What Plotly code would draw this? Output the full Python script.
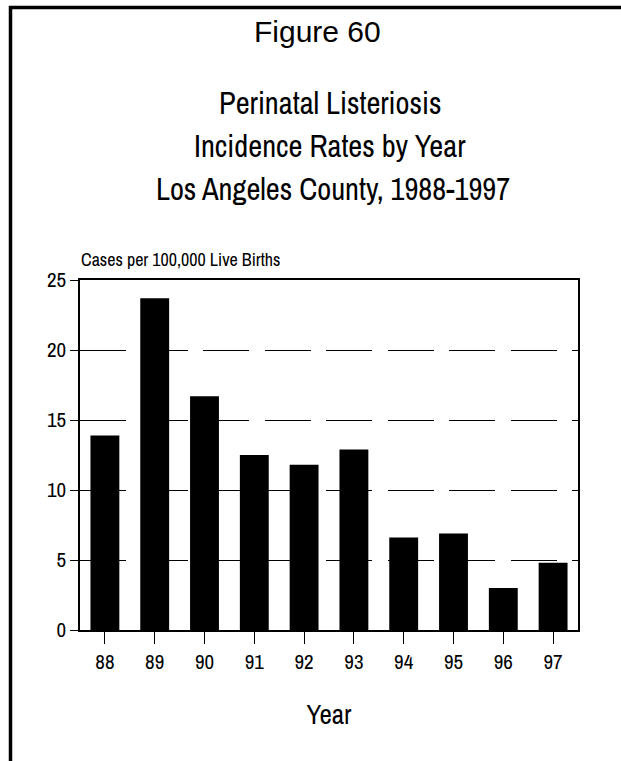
import plotly.graph_objects as go

years = ["88", "89", "90", "91", "92", "93", "94", "95", "96", "97"]
rates = [13.9, 23.7, 16.7, 12.5, 11.8, 12.9, 6.6, 6.9, 3.0, 4.8]
y_ticks = [0, 5, 10, 15, 20, 25]

W, H = 621, 761
L, R, T, B = 80, 578, 280, 630
NARROW = "Archivo Narrow, Roboto Condensed, Liberation Sans Narrow, Arial Narrow, sans-serif"
REG = "Arimo, Liberation Sans, Arial, sans-serif"

def px(x):
    return (x - L) / (R - L)

def py(y):
    return (B - y) / (B - T)

fig = go.Figure(go.Bar(x=years, y=rates, marker=dict(color="black", line=dict(width=0)),
                       width=0.58))

fig.update_layout(
    width=W, height=H,
    margin=dict(l=L, r=W - R, t=T, b=H - B),
    paper_bgcolor="white", plot_bgcolor="white",
    showlegend=False,
    font=dict(family=NARROW, color="black"),
)
fig.update_xaxes(type="category", showgrid=False, showline=True, linecolor="black", linewidth=1.5,
                 mirror=True, ticks="outside", ticklen=12, tickcolor="black", tickwidth=1.2,
                 tickfont=dict(size=21, family=NARROW),
                 title=dict(text="Year", font=dict(size=27, family=NARROW), standoff=30))
fig.update_yaxes(range=[0, 25], tickvals=y_ticks, showgrid=True, gridcolor="black", gridwidth=1.2,
                 griddash="46px,15.5px", showline=True, linecolor="black", linewidth=1.5, mirror=True,
                 ticks="outside", ticklen=8, tickcolor="black", tickwidth=1.2, zeroline=False,
                 tickfont=dict(size=21, family=NARROW))

ann = [
    dict(text="Figure 60", x=px(317), y=py(32), font=dict(size=30, family=REG)),
    dict(text="Perinatal Listeriosis", x=px(330), y=py(103), font=dict(size=30.5, family=NARROW)),
    dict(text="Incidence Rates by Year", x=px(330), y=py(146), font=dict(size=30.5, family=NARROW)),
    dict(text="Los Angeles County, 1988-1997", x=px(333), y=py(189), font=dict(size=30.5, family=NARROW)),
]
annotations = [dict(xref="paper", yref="paper", showarrow=False, xanchor="center", yanchor="middle", **a) for a in ann]
annotations.append(dict(text="Cases per 100,000 Live Births", xref="paper", yref="paper", x=px(79), y=py(259),
                        xanchor="left", yanchor="middle", showarrow=False, font=dict(size=18, family=NARROW)))
fig.update_layout(annotations=annotations)

fig.add_shape(type="path", xref="paper", yref="paper",
              path=f"M {px(10.5)} {py(H + 2)} L {px(10.5)} {py(7.5)} L {px(W + 2)} {py(7.5)}",
              line=dict(color="black", width=3.5))

fig.write_html("out.html", config={"displayModeBar": False},
               post_script="document.body.style.margin='0px';")
